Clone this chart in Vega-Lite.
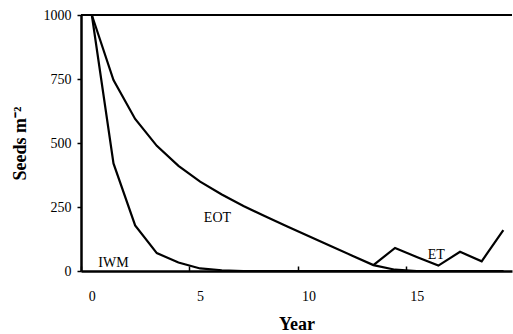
{
  "$schema": "https://vega.github.io/schema/vega-lite/v6.json",
  "width": 431,
  "height": 256,
  "autosize": {"type": "none"},
  "padding": {"left": 81, "top": 15, "right": 1, "bottom": 63},
  "background": "white",
  "config": {
    "view": {"stroke": null},
    "font": "Liberation Serif",
    "axis": {"grid": false, "domainColor": "black", "tickColor": "black", "labelColor": "black", "titleColor": "black", "labelFont": "Liberation Serif", "titleFont": "Liberation Serif"}
  },
  "datasets": {
    "lines": [
      {"series": "IWM", "year": 0, "seeds": 1000},
      {"series": "IWM", "year": 1, "seeds": 420},
      {"series": "IWM", "year": 2, "seeds": 178},
      {"series": "IWM", "year": 3, "seeds": 70},
      {"series": "IWM", "year": 4, "seeds": 33},
      {"series": "IWM", "year": 5, "seeds": 10},
      {"series": "IWM", "year": 6, "seeds": 3},
      {"series": "IWM", "year": 7, "seeds": 0},
      {"series": "IWM", "year": 8, "seeds": 0},
      {"series": "IWM", "year": 9, "seeds": 0},
      {"series": "IWM", "year": 10, "seeds": 0},
      {"series": "IWM", "year": 11, "seeds": 0},
      {"series": "IWM", "year": 12, "seeds": 0},
      {"series": "IWM", "year": 13, "seeds": 0},
      {"series": "IWM", "year": 14, "seeds": 0},
      {"series": "IWM", "year": 15, "seeds": 0},
      {"series": "IWM", "year": 16, "seeds": 0},
      {"series": "IWM", "year": 17, "seeds": 0},
      {"series": "IWM", "year": 18, "seeds": 0},
      {"series": "IWM", "year": 19, "seeds": 0},
      {"series": "EOT", "year": 0, "seeds": 1000},
      {"series": "EOT", "year": 1, "seeds": 746},
      {"series": "EOT", "year": 2, "seeds": 594},
      {"series": "EOT", "year": 3, "seeds": 489},
      {"series": "EOT", "year": 4, "seeds": 411},
      {"series": "EOT", "year": 5, "seeds": 349},
      {"series": "EOT", "year": 6, "seeds": 299},
      {"series": "EOT", "year": 7, "seeds": 254},
      {"series": "EOT", "year": 8, "seeds": 214},
      {"series": "EOT", "year": 9, "seeds": 175},
      {"series": "EOT", "year": 10, "seeds": 137},
      {"series": "EOT", "year": 11, "seeds": 99},
      {"series": "EOT", "year": 12, "seeds": 61},
      {"series": "EOT", "year": 13, "seeds": 23},
      {"series": "EOT", "year": 14, "seeds": 5},
      {"series": "EOT", "year": 15, "seeds": 0},
      {"series": "EOT", "year": 16, "seeds": 0},
      {"series": "EOT", "year": 17, "seeds": 0},
      {"series": "EOT", "year": 18, "seeds": 0},
      {"series": "EOT", "year": 19, "seeds": 0},
      {"series": "ET", "year": 13, "seeds": 23},
      {"series": "ET", "year": 14, "seeds": 90},
      {"series": "ET", "year": 15, "seeds": 55},
      {"series": "ET", "year": 16, "seeds": 21},
      {"series": "ET", "year": 17, "seeds": 75},
      {"series": "ET", "year": 18, "seeds": 38},
      {"series": "ET", "year": 19, "seeds": 160}
    ],
    "labels": [
      {"label": "IWM", "year": 1.0, "seeds": 30},
      {"label": "EOT", "year": 5.8, "seeds": 207},
      {"label": "ET", "year": 15.9, "seeds": 62}
    ],
    "top": [{"seeds": 1000}]
  },
  "layer": [
    {
      "data": {"name": "lines"},
      "mark": {"type": "line", "color": "black", "strokeWidth": 2.2},
      "encoding": {
        "x": {
          "field": "year", "type": "quantitative",
          "scale": {"domain": [-0.5, 19.4], "nice": false, "zero": false},
          "axis": {
            "values": [0, 5, 10, 15],
            "title": "Year",
            "titleFontSize": 18,
            "titleFontWeight": "bold",
            "titlePadding": 12,
            "labelFontSize": 14,
            "labelPadding": 23,
            "tickSize": -5,
            "tickWidth": 1.5,
            "tickOffset": -10.8,
            "labelOffset": 10.8,
            "domainWidth": 2.5
          }
        },
        "y": {
          "field": "seeds", "type": "quantitative",
          "scale": {"domain": [0, 1000], "nice": false},
          "axis": {
            "values": [0, 250, 500, 750, 1000],
            "format": "d",
            "title": "Seeds m⁻²",
            "titleFontSize": 18,
            "titleFontWeight": "bold",
            "titlePadding": 14,
            "labelFontSize": 14,
            "labelPadding": 6,
            "tickSize": 4,
            "tickWidth": 1.5,
            "domainWidth": 2.5
          }
        },
        "detail": {"field": "series"}
      }
    },
    {
      "data": {"name": "top"},
      "mark": {"type": "rule", "color": "black", "strokeWidth": 2},
      "encoding": {"y": {"field": "seeds", "type": "quantitative"}}
    },
    {
      "data": {"name": "labels"},
      "mark": {"type": "text", "color": "black", "fontSize": 14, "font": "Liberation Serif"},
      "encoding": {
        "x": {"field": "year", "type": "quantitative"},
        "y": {"field": "seeds", "type": "quantitative"},
        "text": {"field": "label"}
      }
    }
  ]
}
